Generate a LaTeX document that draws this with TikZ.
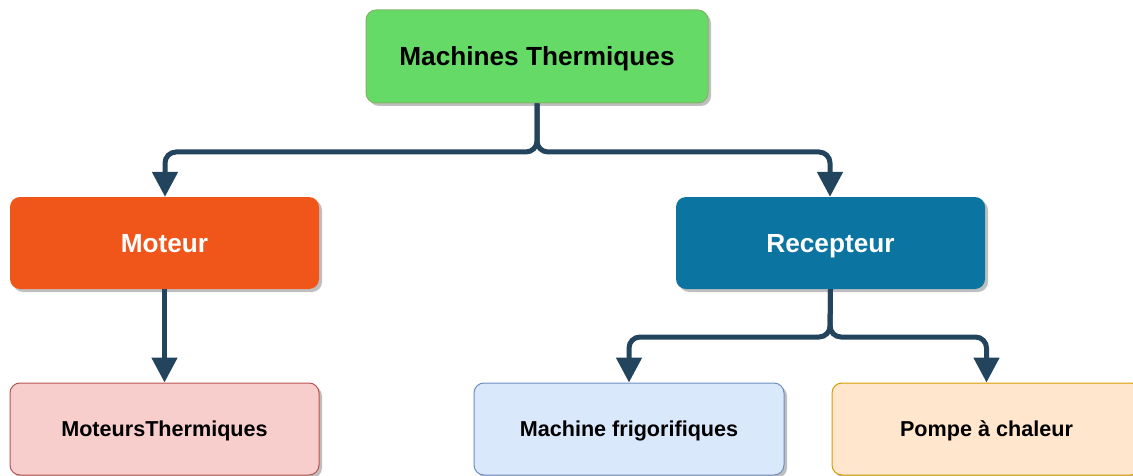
\documentclass[tikz,border=0pt]{standalone}
\usepackage{fontspec}
\setmainfont{Liberation Sans}
\usetikzlibrary{arrows.meta,shadows}
\definecolor{cgreen}{HTML}{66DA66}
\definecolor{cgreenb}{HTML}{82B366}
\definecolor{corange}{HTML}{F0561A}
\definecolor{cblue}{HTML}{0B74A1}
\definecolor{cpink}{HTML}{F8CECC}
\definecolor{cpinkb}{HTML}{B85450}
\definecolor{clblue}{HTML}{DAE8FC}
\definecolor{clblueb}{HTML}{6C8EBF}
\definecolor{cpeach}{HTML}{FFE6CC}
\definecolor{cpeachb}{HTML}{D79B00}
\definecolor{cline}{HTML}{23445D}
\tikzset{
  box/.style={rounded corners=10pt, inner sep=0pt, text depth=0pt, font=\bfseries,
    drop shadow={shadow xshift=3pt, shadow yshift=-3pt, fill=black, opacity=0.25}},
  bigbox/.style={box, minimum width=309pt, minimum height=92pt, font=\fontsize{26.2}{30}\selectfont\bfseries},
  smallbox/.style={box, minimum width=309pt, minimum height=92pt, line width=1pt, font=\fontsize{21.6}{25}\selectfont\bfseries},
  conn/.style={draw=cline, line width=5pt, rounded corners=11pt, -{Triangle[width=25pt,length=25pt]}}
}
\begin{document}
\begin{tikzpicture}[x=1pt,y=-1pt]
\useasboundingbox (0,0) rectangle (1133,476);
\clip (0,0) rectangle (1133,476);
\node[bigbox, fill=cgreen, draw=cgreenb, line width=1pt, minimum width=342pt, minimum height=93pt] (top) at (537,56.5) {Machines Thermiques};
\node[bigbox, fill=corange, text=white] (mot) at (164.5,243) {Moteur};
\node[bigbox, fill=cblue, text=white] (rec) at (830.5,243) {Recepteur};
\node[smallbox, fill=cpink, draw=cpinkb] (mth) at (164.5,429) {MoteursThermiques};
\node[smallbox, fill=clblue, draw=clblueb, minimum width=310pt] (frig) at (629,429) {Machine frigorifiques};
\node[smallbox, fill=cpeach, draw=cpeachb] (pompe) at (986.5,429) {Pompe à chaleur};
\coordinate (j1) at (537,152);
\coordinate (j1l) at (165,152);
\coordinate (j1r) at (830,152);
\coordinate (j2) at (830,337);
\coordinate (j2l) at (629,337);
\coordinate (j2r) at (986.5,337);
\draw[conn] (top.south) -- (j1) -- (j1l) -- (j1l |- mot.north);
\draw[conn] (top.south) -- (j1) -- (j1r) -- (j1r |- rec.north);
\draw[conn] (mot.south) -- (mth.north);
\draw[conn] (rec.south) -- (j2) -- (j2l) -- (j2l |- frig.north);
\draw[conn] (rec.south) -- (j2) -- (j2r) -- (j2r |- pompe.north);
\end{tikzpicture}
\end{document}
